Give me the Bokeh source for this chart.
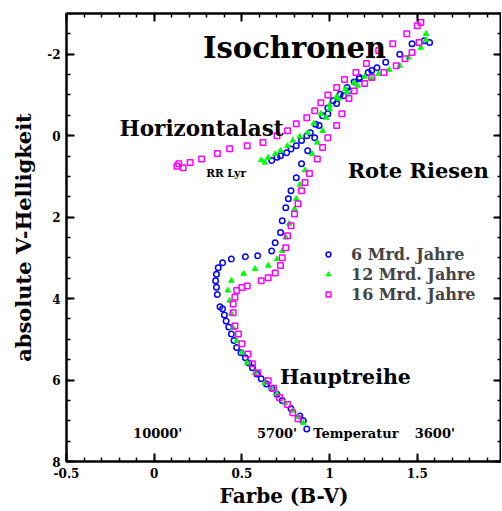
from bokeh.plotting import figure
from bokeh.models import Range1d, SingleIntervalTicker, LinearAxis, Label, CustomLabelingPolicy
from bokeh.embed import file_html
from bokeh.resources import INLINE

# ---- data ----
blue_x = [0.87, 0.85, 0.83, 0.78, 0.73, 0.70, 0.67, 0.64, 0.61, 0.585, 0.56, 0.54, 0.52, 0.495, 0.47, 0.455,
          0.44, 0.425, 0.41, 0.40, 0.39, 0.375, 0.36, 0.355, 0.35, 0.355, 0.365, 0.39, 0.44, 0.52, 0.59, 0.67,
          0.69, 0.72, 0.73, 0.75, 0.765, 0.78, 0.81, 0.84, 0.875, 0.915, 0.94, 0.99, 1.04, 1.08, 1.11, 1.17,
          1.24, 1.32, 1.40, 1.47, 1.54, 1.57,
          0.67, 0.70, 0.72, 0.755, 0.78, 0.81, 0.84, 0.87, 0.89, 0.92, 0.96, 0.99, 1.02, 1.06, 1.10, 1.14,
          1.17, 1.22, 1.27]
blue_y = [7.2, 7.0, 6.88, 6.7, 6.5, 6.35, 6.2, 6.1, 5.97, 5.85, 5.7, 5.58, 5.45, 5.33, 5.2, 5.03,
          4.87, 4.7, 4.55, 4.4, 4.25, 4.2, 3.9, 3.72, 3.56, 3.4, 3.24, 3.12, 3.03, 2.97, 2.95, 2.83,
          2.63, 2.38, 2.09, 1.77, 1.55, 1.35, 1.03, 0.69, 0.37, 0.05, -0.25, -0.54, -0.79, -0.98, -1.1, -1.4,
          -1.6, -1.8, -2.0, -2.26, -2.33, -2.29,
          0.61, 0.53, 0.49, 0.42, 0.33, 0.25, 0.12, 0.0, -0.07, -0.28, -0.49, -0.68, -0.86, -1.02, -1.18, -1.32,
          -1.43, -1.55, -1.67]

green_x = [0.85, 0.82, 0.79, 0.745, 0.70, 0.665, 0.63, 0.575, 0.53, 0.50, 0.47, 0.45, 0.44, 0.43, 0.42, 0.44,
           0.51, 0.575, 0.65, 0.70, 0.73, 0.75, 0.77, 0.80, 0.81, 0.83, 0.86, 0.90, 0.93, 0.96, 0.98, 1.0,
           1.05, 1.10, 1.16, 1.24, 1.28, 1.34, 1.40, 1.45, 1.52, 1.55, 1.55,
           0.61, 0.63, 0.65, 0.69, 0.72, 0.76, 0.79, 0.83, 0.875, 0.91, 0.95, 1.0, 1.04, 1.09, 1.14, 1.2]
green_y = [7.05, 6.9, 6.76, 6.56, 6.34, 6.2, 6.07, 5.82, 5.58, 5.33, 5.04, 4.72, 4.37, 4.05, 3.8, 3.56,
           3.39, 3.27, 3.19, 3.03, 2.83, 2.5, 2.16, 1.8, 1.55, 1.2, 0.85, 0.45, 0.17, -0.12, -0.44, -0.65,
           -0.91, -1.06, -1.23, -1.4, -1.52, -1.62, -1.72, -1.92, -2.16, -2.35, -2.5,
           0.6, 0.66, 0.54, 0.45, 0.37, 0.25, 0.12, 0.02, -0.07, -0.3, -0.54, -0.75, -0.95, -1.15, -1.3, -1.45]

magenta_x = [0.82, 0.79, 0.76, 0.715, 0.68, 0.65, 0.59, 0.56, 0.535, 0.50, 0.48, 0.46, 0.45, 0.45, 0.46, 0.47,
             0.50, 0.53, 0.61, 0.65, 0.69, 0.72, 0.73, 0.75, 0.76, 0.78, 0.80, 0.82, 0.84, 0.86, 0.885, 0.93,
             0.96, 0.99, 1.04, 1.07, 1.11, 1.14, 1.20, 1.24, 1.31, 1.38, 1.43, 1.47, 1.51,
             0.13, 0.14, 0.165, 0.205, 0.27, 0.36, 0.43, 0.53, 0.62, 0.70, 0.76, 0.81, 0.87, 0.915, 0.95, 0.99,
             1.04, 1.085, 1.15, 1.21, 1.28, 1.36, 1.44, 1.50, 1.52]
magenta_y = [6.95, 6.8, 6.6, 6.43, 6.2, 6.02, 5.82, 5.6, 5.36, 5.11, 4.87, 4.67, 4.35, 4.13, 3.97, 3.8,
             3.73, 3.69, 3.56, 3.49, 3.37, 3.19, 3.0, 2.75, 2.46, 2.21, 1.92, 1.67, 1.35, 1.15, 0.93, 0.57,
             0.29, 0.05, -0.25, -0.54, -0.91, -1.1, -1.28, -1.43, -1.55, -1.72, -1.89, -2.04, -2.29,
             0.75, 0.69, 0.79, 0.66, 0.57, 0.44, 0.32, 0.25, 0.17, 0.0, -0.12, -0.29, -0.44, -0.61, -0.81, -1.0,
             -1.18, -1.38, -1.55, -1.77, -2.09, -2.26, -2.5, -2.7, -2.78]

series_labels = ["6 Mrd. Jahre", "12 Mrd. Jahre", "16 Mrd. Jahre"]

x_tick_values = [-0.5, 0, 0.5, 1, 1.5, 2]
x_tick_labels = ["-0.5", "0", "0.5", "1", "1.5", "2"]
y_tick_values = [-2, 0, 2, 4, 6, 8]
y_tick_labels = ["-2", "0", "2", "4", "6", "8"]

FONT = "DejaVu Serif"

p = figure(width=501, height=510, output_backend="svg", toolbar_location=None,
           x_range=Range1d(-0.5, 1.98), y_range=Range1d(8, -3),
           min_border_left=66, min_border_right=0, min_border_top=13, min_border_bottom=49,
           x_axis_label="Farbe (B-V)", y_axis_label="absolute V-Helligkeit")
p.grid.visible = False
p.outline_line_color = "black"
p.outline_line_width = 2
p.background_fill_color = "white"
p.border_fill_color = "white"

hide_labels = CustomLabelingPolicy(code="""
try {
  const all = Array.from(indices.ones())
  for (const i of all) indices.unset(i)
} catch (e) {
  try { for (let i = 0; i < indices.size; i++) indices.set(i, false) } catch (e2) {}
}
return indices
""")

def style_axis(ax, ticker, overrides, show_labels=True):
    ax.ticker = ticker
    ax.major_label_overrides = overrides
    ax.axis_line_width = 2
    ax.axis_line_color = "black"
    ax.major_tick_in = 8
    ax.major_tick_out = 0
    ax.minor_tick_in = 4
    ax.minor_tick_out = 0
    ax.major_tick_line_width = 2
    ax.minor_tick_line_width = 1.5
    ax.major_tick_line_color = "black"
    ax.minor_tick_line_color = "black"
    ax.major_label_text_font = FONT
    ax.major_label_text_font_style = "bold"
    ax.major_label_text_font_size = "12px" if show_labels else "0px"
    ax.major_label_text_color = "black"
    ax.major_label_standoff = 6 if show_labels else 0
    ax.axis_label_text_font = FONT
    ax.axis_label_text_font_style = "bold"
    ax.axis_label_text_color = "black"
    if not show_labels:
        ax.major_label_policy = hide_labels

x_over = {v: s for v, s in zip(x_tick_values, x_tick_labels)}
y_over = {v: s for v, s in zip(y_tick_values, y_tick_labels)}

style_axis(p.xaxis[0], SingleIntervalTicker(interval=0.5, num_minor_ticks=5), x_over)
style_axis(p.yaxis[0], SingleIntervalTicker(interval=2, num_minor_ticks=4), y_over)
p.xaxis[0].axis_label_text_font_size = "20px"
p.xaxis[0].axis_label_standoff = 3
p.yaxis[0].axis_label_text_font_size = "21px"
p.yaxis[0].axis_label_standoff = 8
p.yaxis[0].major_label_orientation = "horizontal"

top = LinearAxis()
style_axis(top, SingleIntervalTicker(interval=0.5, num_minor_ticks=5), x_over, show_labels=False)
p.add_layout(top, "above")
right = LinearAxis()
style_axis(right, SingleIntervalTicker(interval=2, num_minor_ticks=4), y_over, show_labels=False)
p.add_layout(right, "right")

p.scatter(blue_x, blue_y, marker="circle", size=5.5, fill_color=None, line_color="#0000ff",
          line_width=1.5, legend_label=series_labels[0])
p.scatter(green_x, green_y, marker="triangle", size=5.5, fill_color="#00ff00", line_color="#00ff00",
          line_width=1, legend_label=series_labels[1])
p.scatter(magenta_x, magenta_y, marker="square", size=5.5, fill_color=None, line_color="#ff00ff",
          line_width=1.5, legend_label=series_labels[2])

lg = p.legend[0]
lg.location = (256, 157)
lg.border_line_alpha = 0
lg.background_fill_alpha = 0
lg.padding = 0
lg.margin = 0
lg.spacing = 0
lg.glyph_width = 12
lg.glyph_height = 20
lg.label_height = 20
lg.label_standoff = 17
lg.label_text_font = FONT
lg.label_text_font_style = "bold"
lg.label_text_font_size = "16px"

def add_text(x, y, text, size, align="center"):
    p.add_layout(Label(x=x, y=y, text=text, text_font=FONT, text_font_style="bold",
                       text_font_size=size, text_align=align, text_baseline="middle",
                       text_color="black"))

add_text(0.80, -2.16, "Isochronen", "29px")
add_text(0.27, -0.17, "Horizontalast", "21.5px")
add_text(0.41, 0.91, "RR Lyr", "10.5px")
add_text(1.505, 0.86, "Rote Riesen", "21px")
add_text(1.09, 5.92, "Hauptreihe", "20.5px")
add_text(0.02, 7.32, "10000'", "13px")
add_text(0.70, 7.32, "5700'", "13px")
add_text(1.15, 7.32, "Temperatur", "13px")
add_text(1.60, 7.32, "3600'", "13px")

open("out.html", "w").write(file_html(p, INLINE))
